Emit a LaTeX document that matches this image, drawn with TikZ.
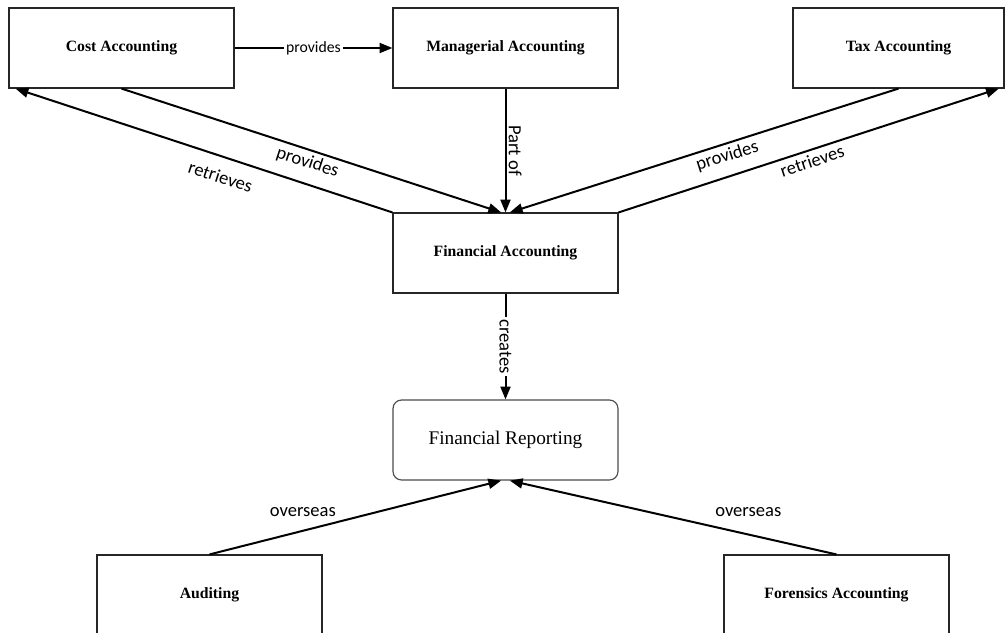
\documentclass[tikz,border=0pt]{standalone}
\usepackage{fontspec}
\setmainfont{Liberation Serif}
\newfontfamily\lblfont{Carlito}
\usetikzlibrary{arrows.meta}

\begin{document}
\begin{tikzpicture}[x=0.7pt,y=-0.7pt,
	box/.style={draw=black!85,line width=0.8pt,minimum width=157.5pt,minimum height=56pt,inner sep=0pt,font=\bfseries\fontsize{11}{13}\selectfont},
	rbox/.style={box,rounded corners=6pt,draw=black!70,font=\fontsize{13.5}{15}\selectfont},
	arr/.style={line width=1.4pt,-{Triangle[length=9pt,width=7pt]}},
	lbl/.style={font=\lblfont\fontsize{13}{15}\selectfont,inner sep=1.5pt}]

	\clip (0,0) rectangle (1006,632);
	\fill[white] (0,0) rectangle (1006,632);

	% top row
	\node[box] (cost) at (121.5,48){Cost Accounting};
	\node[box] (man) at (505.5,48){Managerial Accounting};
	\node[box,minimum width=147.7pt] (tax) at (898.5,48){Tax Accounting};

	% middle
	\node[box] (fin) at (505.5,253){Financial Accounting};
	\node[rbox] (rep) at (505.5,440){Financial Reporting};

	% bottom row
	\node[box] (aud) at (209.5,595){Auditing};
	\node[box] (for) at (836.5,595){Forensics Accounting};

	\draw[arr] (cost) -- node[lbl,fill=white,font=\lblfont\fontsize{11}{13}\selectfont]{provides} (man);
	\draw[arr] (man) -- node[lbl,midway,rotate=-90,anchor=south]{Part of} (fin);
	\draw[arr] (cost.south) -- node[lbl,sloped,below,inner sep=2.5pt]{provides} ([xshift=-3pt]fin.north); %cost to financial
	\draw[arr] (fin.north west) -- node[lbl,pos=0.44,sloped,below=7pt]{retrieves} ([xshift=5pt]cost.south west);
	\draw[arr] (tax.south) -- node[lbl,pos=0.45,sloped,below,inner sep=2.5pt]{provides} ([xshift=3pt]fin.north); %tax to financial
	\draw[arr] (fin.north east) -- node[lbl,sloped,below,inner sep=2.5pt]{retrieves} ([xshift=-4pt]tax.south east);

	\draw[arr] (fin) -- node[lbl,fill=white,rotate=-90]{creates} (rep);

	\draw[arr] (aud.north) -- node[lbl,pos=0.32,above=7.5pt]{overseas} ([xshift=-3pt]rep.south);
	\draw[arr] (for.north) -- node[lbl,pos=0.27,above=10pt]{overseas} ([xshift=3pt]rep.south);

\end{tikzpicture}
\end{document}
